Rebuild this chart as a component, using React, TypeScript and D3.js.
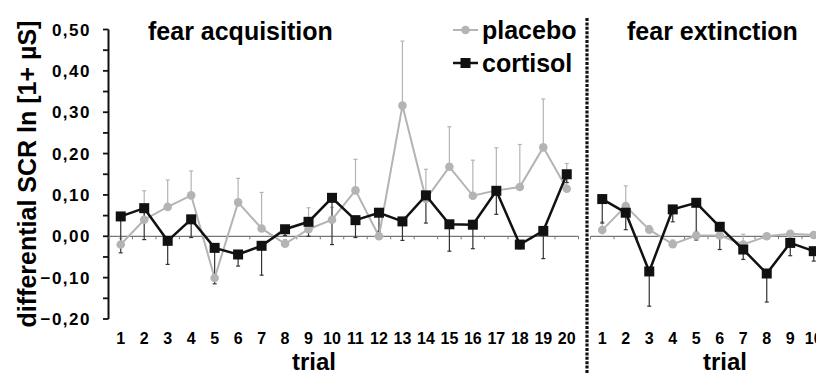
import * as d3 from "d3";

// fear acquisition (trials 1-20)
const acqTrials = d3.range(1, 21);
const acqPlacebo = [-0.02, 0.04, 0.071, 0.099, -0.101, 0.082, 0.019, -0.018, 0.017, 0.04, 0.111, 0.0, 0.316, 0.09, 0.168, 0.098, 0.111, 0.119, 0.215, 0.115];
const acqPlaceboErr = [0.015, 0.07, 0.065, 0.059, 0.01, 0.058, 0.087, 0.01, 0.052, 0.03, 0.075, 0.01, 0.156, 0.072, 0.097, 0.086, 0.103, 0.103, 0.117, 0.061];
const acqCortisol = [0.048, 0.068, -0.011, 0.041, -0.028, -0.044, -0.023, 0.017, 0.035, 0.093, 0.039, 0.057, 0.036, 0.099, 0.029, 0.028, 0.11, -0.02, 0.013, 0.15];
const acqCortisolErr = [0.088, 0.076, 0.057, 0.044, 0.087, 0.028, 0.071, 0.015, 0.035, 0.113, 0.042, 0.045, 0.046, 0.067, 0.065, 0.058, 0.057, 0.01, 0.067, 0.02];

// fear extinction (trials 1-10)
const extTrials = d3.range(1, 11);
const extPlacebo = [0.015, 0.073, 0.016, -0.019, 0.002, 0.002, -0.02, 0.0, 0.006, 0.003];
const extPlaceboErr = [0.02, 0.049, 0.01, 0.01, 0.01, 0.01, 0.025, 0.005, 0.005, 0.005];
const extCortisol = [0.09, 0.057, -0.085, 0.065, 0.081, 0.023, -0.032, -0.09, -0.016, -0.036];
const extCortisolErr = [0.058, 0.041, 0.084, 0.03, 0.09, 0.055, 0.024, 0.069, 0.031, 0.024];

const yTicks = [0.5, 0.4, 0.3, 0.2, 0.1, 0, -0.1, -0.2];

const GREY = "#b4b4b4";
const BLACK = "#111";
const FONT = "'Liberation Sans', Arial, sans-serif";

const yScale = d3.scaleLinear().domain([-0.2, 0.5]).range([319, 29.5]);
const fmt = (v: number) => d3.format(".2f")(v).replace(".", ",");

type PanelProps = {
	trials: number[];
	placebo: number[];
	placeboErr: number[];
	cortisol: number[];
	cortisolErr: number[];
	x0: number;
	x1: number;
};

function Panel({ trials, placebo, placeboErr, cortisol, cortisolErr, x0, x1 }: PanelProps) {
	const x = d3.scalePoint<number>().domain(trials).range([x0, x1]).padding(0.5);
	const step = x.step();
	const y0 = yScale(0);
	const line = d3
		.line<number>()
		.x((_, i) => x(trials[i])!)
		.y((d) => yScale(d));

	return (
		<g>
			{/* zero line with ticks between trials */}
			<line x1={x0} x2={x1} y1={y0} y2={y0} stroke="#777" strokeWidth={1.2} />
			{d3.range(trials.length + 1).map((i) => (
				<line key={i} x1={x0 + i * step} x2={x0 + i * step} y1={y0} y2={y0 + 3} stroke="#777" />
			))}
			{/* placebo error bars (up) */}
			{placebo.map((d, i) => {
				const cx = x(trials[i])!;
				const top = yScale(d + placeboErr[i]);
				return (
					<g key={"pe" + i} stroke={GREY} strokeWidth={1.2}>
						<line x1={cx} x2={cx} y1={yScale(d)} y2={top} />
						<line x1={cx - 2} x2={cx + 2} y1={top} y2={top} />
					</g>
				);
			})}
			{/* cortisol error bars (down) */}
			{cortisol.map((d, i) => {
				const cx = x(trials[i])!;
				const bot = yScale(d - cortisolErr[i]);
				return (
					<g key={"ce" + i} stroke="#333" strokeWidth={1.2}>
						<line x1={cx} x2={cx} y1={yScale(d)} y2={bot} />
						<line x1={cx - 2} x2={cx + 2} y1={bot} y2={bot} />
					</g>
				);
			})}
			<path d={line(placebo) ?? ""} fill="none" stroke={GREY} strokeWidth={2} />
			{placebo.map((d, i) => (
				<circle key={"pc" + i} cx={x(trials[i])} cy={yScale(d)} r={4.3} fill={GREY} />
			))}
			<path d={line(cortisol) ?? ""} fill="none" stroke={BLACK} strokeWidth={2.5} />
			{cortisol.map((d, i) => (
				<rect key={"cr" + i} x={x(trials[i])! - 5} y={yScale(d) - 5} width={10} height={10} fill={BLACK} />
			))}
			{trials.map((t) => (
				<text
					key={"xt" + t}
					x={x(t)}
					y={344}
					textAnchor="middle"
					fontSize={16}
					fontWeight="bold"
				>
					{t}
				</text>
			))}
		</g>
	);
}

export default function App() {
	const minor = d3.range(-0.2, 0.5001, 0.05);
	return (
		<svg
			width={816}
			height={374}
			style={{ position: "absolute", left: 0, top: 0, background: "#fff" }}
			fontFamily={FONT}
		>
			{/* y axis */}
			<line x1={108.5} x2={108.5} y1={29.5} y2={319} stroke={BLACK} strokeWidth={2} />
			{minor.map((v, i) => (
				<line key={i} x1={103} x2={108.5} y1={yScale(v)} y2={yScale(v)} stroke={BLACK} strokeWidth={1.8} />
			))}
			{yTicks.map((v) => (
				<text
					key={v}
					x={91}
					y={yScale(v)}
					dy="0.36em"
					textAnchor="end"
					fontSize={17}
					fontWeight="bold"
					letterSpacing={1.5}
				>
					{fmt(v)}
				</text>
			))}
			<text
				transform="translate(36,174) rotate(-90)"
				textAnchor="middle"
				fontSize={25}
				fontWeight="bold"
			>
				differential SCR ln [1+ µS]
			</text>

			<Panel
				trials={acqTrials}
				placebo={acqPlacebo}
				placeboErr={acqPlaceboErr}
				cortisol={acqCortisol}
				cortisolErr={acqCortisolErr}
				x0={109}
				x1={578.5}
			/>
			<Panel
				trials={extTrials}
				placebo={extPlacebo}
				placeboErr={extPlaceboErr}
				cortisol={extCortisol}
				cortisolErr={extCortisolErr}
				x0={590.5}
				x1={825.5}
			/>

			{/* dotted divider */}
			<line x1={587} x2={587} y1={18} y2={374} stroke={BLACK} strokeWidth={3.2} strokeDasharray="3 1.4" />

			{/* titles */}
			<text x={148} y={40} fontSize={25} fontWeight="bold">
				fear acquisition
			</text>
			<text x={627} y={40} fontSize={25} fontWeight="bold">
				fear extinction
			</text>
			<text x={314} y={370} textAnchor="middle" fontSize={24} fontWeight="bold">
				trial
			</text>
			<text x={725} y={370} textAnchor="middle" fontSize={24} fontWeight="bold">
				trial
			</text>

			{/* legend */}
			<line x1={453} x2={478} y1={30} y2={30} stroke={GREY} strokeWidth={2} />
			<circle cx={465.5} cy={30} r={4.3} fill={GREY} />
			<text x={482} y={30} dy="0.36em" fontSize={25} fontWeight="bold">
				placebo
			</text>
			<line x1={453} x2={478} y1={63} y2={63} stroke={BLACK} strokeWidth={2.5} />
			<rect x={460.5} y={58} width={10} height={10} fill={BLACK} />
			<text x={482} y={63} dy="0.36em" fontSize={25} fontWeight="bold">
				cortisol
			</text>
		</svg>
	);
}
